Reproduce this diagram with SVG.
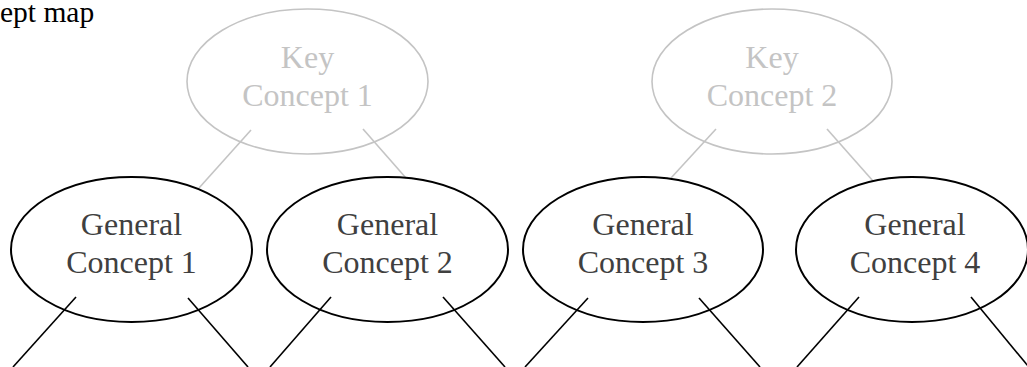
<svg xmlns="http://www.w3.org/2000/svg" width="1027" height="367" viewBox="0 0 1027 367">
<style>
text{font-family:"Liberation Serif","Times New Roman",serif;font-size:32px;text-anchor:middle}
.key ellipse{fill:none;stroke:#c4c4c4;stroke-width:1.6}
.key text{fill:#c4c4c4}
.gen ellipse{fill:none;stroke:#000;stroke-width:2}
.gen text{fill:#404040}
.lk{stroke:#c4c4c4;stroke-width:1.6}
.lg{stroke:#000;stroke-width:1.6}
.title{text-anchor:start;font-size:29.5px;fill:#000}
</style>
<text class="title" x="0" y="22">ept map</text>
<g id="connectors" fill="none">
<line class="lk" x1="251" y1="130" x2="199" y2="188"/>
<line class="lk" x1="363" y1="129" x2="406" y2="178"/>
<line class="lk" x1="716" y1="129" x2="671" y2="178"/>
<line class="lk" x1="827" y1="129" x2="873" y2="181"/>
<line class="lg" x1="76" y1="297" x2="13" y2="367"/>
<line class="lg" x1="188" y1="298" x2="248" y2="367"/>
<line class="lg" x1="331" y1="297" x2="270" y2="367"/>
<line class="lg" x1="443" y1="297" x2="505" y2="367"/>
<line class="lg" x1="588" y1="298" x2="525" y2="367"/>
<line class="lg" x1="699" y1="298" x2="760" y2="367"/>
<line class="lg" x1="859" y1="297" x2="797" y2="367"/>
<line class="lg" x1="971" y1="297" x2="1028" y2="366"/>
</g>
<g id="key1" class="key">
<ellipse cx="307.5" cy="81.5" rx="120.5" ry="72.5"/>
<text x="307.5" y="68">Key</text>
<text x="307.5" y="106">Concept 1</text>
</g>
<g id="key2" class="key">
<ellipse cx="772" cy="81.5" rx="120" ry="72.5"/>
<text x="772" y="68">Key</text>
<text x="772" y="106">Concept 2</text>
</g>
<g id="gen1" class="gen">
<ellipse cx="131.5" cy="249.5" rx="120.5" ry="72.5"/>
<text x="131.5" y="235">General</text>
<text x="131.5" y="273">Concept 1</text>
</g>
<g id="gen2" class="gen">
<ellipse cx="387.5" cy="249.5" rx="120.5" ry="72.5"/>
<text x="387.5" y="235">General</text>
<text x="387.5" y="273">Concept 2</text>
</g>
<g id="gen3" class="gen">
<ellipse cx="643" cy="249.5" rx="120" ry="72.5"/>
<text x="643" y="235">General</text>
<text x="643" y="273">Concept 3</text>
</g>
<g id="gen4" class="gen">
<ellipse cx="912" cy="249.5" rx="116" ry="72.5"/>
<text x="915" y="235">General</text>
<text x="915" y="273">Concept 4</text>
</g>
</svg>
